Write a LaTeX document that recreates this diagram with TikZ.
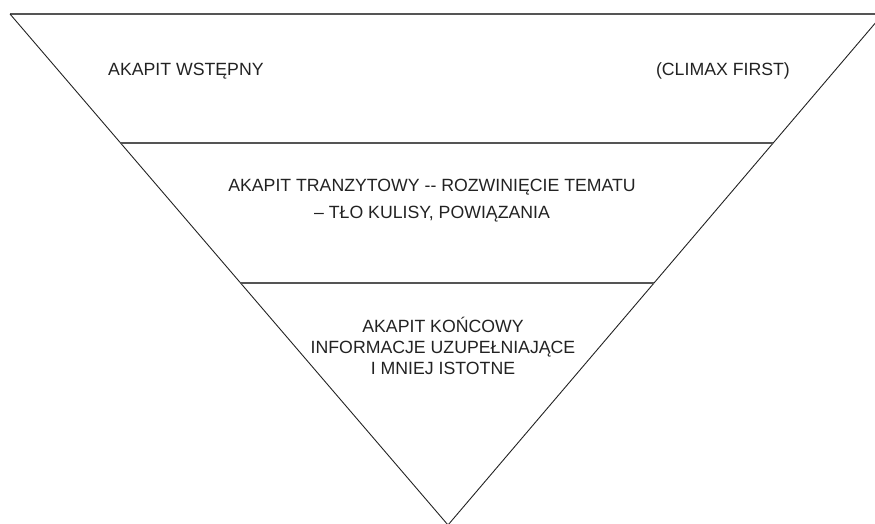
\documentclass[tikz,border=0pt]{standalone}
\usepackage{fontspec}
\setmainfont{Liberation Sans}
\usetikzlibrary{calc}
\definecolor{edgegray}{HTML}{555555}
\definecolor{inkdark}{HTML}{222222}
\tikzset{
  edge/.style={draw=inkdark, line width=0.9pt},
  bar/.style={draw=edgegray, line width=1.4pt},
  label/.style={inner sep=0pt, text=inkdark, font=\fontsize{17.7}{27}\selectfont, align=center},
  labelb/.style={inner sep=0pt, text=inkdark, font=\fontsize{17.7}{21}\selectfont, align=center}
}
\begin{document}
\begin{tikzpicture}[x=1pt,y=-1pt]
\useasboundingbox (0,0) rectangle (875,524);
\clip (0,0) rectangle (875,524);
\coordinate (TL) at (10,14);
\coordinate (TR) at (883,14);
\coordinate (A) at (448,525);
\coordinate (L1) at ($(TL)!0.2524!(A)$);
\coordinate (R1) at ($(TR)!0.2524!(A)$);
\coordinate (L2) at ($(TL)!0.5264!(A)$);
\coordinate (R2) at ($(TR)!0.5264!(A)$);
\draw[bar] (TL) -- (TR);
\draw[edge] (TL) -- (A) -- (TR);
\draw[bar] (L1) -- (R1);
\draw[bar] (L2) -- (R2);
\node[label, anchor=west] (t1) at (108,71) {AKAPIT WSTĘPNY};
\node[label, anchor=east] (t2) at (790,71) {(CLIMAX FIRST)};
\node[label] (t3) at (432,201) {AKAPIT TRANZYTOWY -{}- ROZWINIĘCIE TEMATU\\– TŁO KULISY, POWIĄZANIA};
\node[labelb] (t4) at (443,346) {AKAPIT KOŃCOWY\\INFORMACJE UZUPEŁNIAJĄCE\\I MNIEJ ISTOTNE};
\end{tikzpicture}
\end{document}
